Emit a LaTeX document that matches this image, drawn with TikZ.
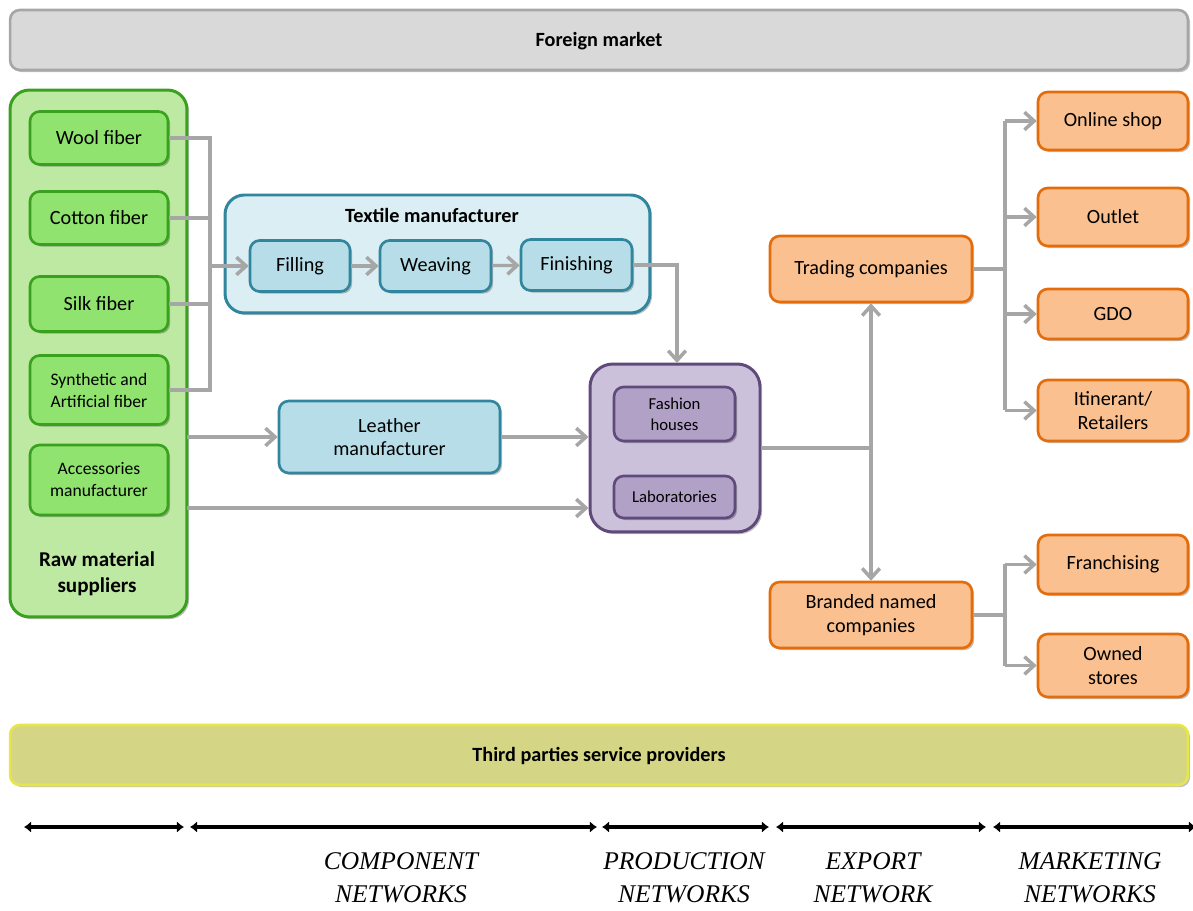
\documentclass[tikz,border=0pt]{standalone}
\usepackage{fontspec}
\setmainfont{Carlito}
\newfontfamily\netfont{Liberation Serif}
\usetikzlibrary{arrows.meta,shadows}
\definecolor{fmfill}{HTML}{D9D9D9}
\definecolor{fmdraw}{HTML}{A6A6A6}
\definecolor{gofill}{HTML}{BDE9A2}
\definecolor{gifill}{HTML}{8FE36E}
\definecolor{gdraw}{HTML}{3AA11F}
\definecolor{tofill}{HTML}{DAEEF3}
\definecolor{tifill}{HTML}{B7DEE8}
\definecolor{tdraw}{HTML}{31859C}
\definecolor{pofill}{HTML}{CCC1DA}
\definecolor{pifill}{HTML}{B2A1C7}
\definecolor{pdraw}{HTML}{604A7B}
\definecolor{ofill}{HTML}{FAC08F}
\definecolor{odraw}{HTML}{E46C0A}
\definecolor{yfill}{HTML}{D5D586}
\definecolor{ydraw}{HTML}{E6E64A}
\definecolor{conn}{HTML}{A6A6A6}
\tikzset{
  x=0.02cm,y=-0.02cm,
  shad/.style={drop shadow={shadow xshift=1.2pt,shadow yshift=-1.2pt,opacity=0.25,fill=black}},
  base/.style={rectangle,rounded corners=5.5pt,line width=1.5pt,align=center,inner sep=1pt,font=\fontsize{11.5}{13.5}\selectfont,shad},
  bar/.style={base,rounded corners=5.5pt},
  gout/.style={base,rounded corners=11pt,line width=1.7pt,fill=gofill,draw=gdraw},
  gin/.style={base,fill=gifill,draw=gdraw},
  tout/.style={base,rounded corners=11pt,line width=1.7pt,fill=tofill,draw=tdraw},
  tin/.style={base,fill=tifill,draw=tdraw},
  pout/.style={base,rounded corners=13pt,line width=1.7pt,fill=pofill,draw=pdraw},
  pin/.style={base,fill=pifill,draw=pdraw,font=\fontsize{9.5}{12}\selectfont},
  obox/.style={base,fill=ofill,draw=odraw},
  lbl/.style={font=\bfseries\fontsize{11.5}{14}\selectfont,align=center,inner sep=0pt},
  line/.style={draw=conn,line width=1.8pt},
  barb/.style={},
  arr/.style={line,-{Straight Barb[length=5.5pt,width=10pt,line width=2pt]}},
  darr/.style={line,{Straight Barb[length=5.5pt,width=10pt,line width=2pt]}-{Straight Barb[length=5.5pt,width=10pt,line width=2pt]}},
  net/.style={black,line width=1.8pt,{Latex[length=4pt,width=6.5pt]}-{Latex[length=4pt,width=6.5pt]}},
  nettext/.style={font=\netfont\itshape\fontsize{14.5}{18.5}\selectfont,align=center,inner sep=0pt}
}
\begin{document}
\begin{tikzpicture}
\useasboundingbox (0,0) rectangle (1193,911);
% top and bottom bars
\node[bar,fill=fmfill,draw=fmdraw,minimum width=23.56cm,minimum height=1.2cm] (fm) at (599,40) {};
\node[lbl] (fmt) at (599,41) {Foreign market};
\node[bar,fill=yfill,draw=ydraw,minimum width=23.56cm,minimum height=1.2cm] (third) at (599,755) {};
\node[lbl] (thirdt) at (599,756) {Third parties service providers};
% raw material suppliers
\node[gout,minimum width=3.54cm,minimum height=10.54cm] (raw) at (98.5,353.5) {};
\node[lbl,font=\bfseries\fontsize{12}{15}\selectfont] (rawt) at (97,574) {Raw material\\suppliers};
\node[gin,minimum width=2.76cm,minimum height=1.06cm] (wool) at (99,138) {Wool fiber};
\node[gin,minimum width=2.76cm,minimum height=1.06cm] (cotton) at (99,218) {Cotton fiber};
\node[gin,minimum width=2.76cm,minimum height=1.1cm] (silk) at (99,304) {Silk fiber};
\node[gin,minimum width=2.76cm,minimum height=1.38cm,font=\fontsize{10}{12.5}\selectfont] (synth) at (99,390) {Synthetic and\\Artificial fiber};
\node[gin,minimum width=2.76cm,minimum height=1.4cm,font=\fontsize{10}{12.5}\selectfont] (acc) at (99,480) {Accessories\\manufacturer};
% textile manufacturer
\node[tout,minimum width=8.5cm,minimum height=2.36cm] (textile) at (437.5,254) {};
\node[lbl] (textilet) at (432,215) {Textile manufacturer};
\node[tin,minimum width=2cm,minimum height=1.02cm] (fill) at (300,266) {Filling};
\node[tin,minimum width=2.22cm,minimum height=1.02cm] (weav) at (435.5,266) {Weaving};
\node[tin,minimum width=2.22cm,minimum height=1.02cm] (fin) at (576.5,265) {Finishing};
\node[tin,minimum width=4.42cm,minimum height=1.44cm] (leather) at (389.5,437) {Leather\\manufacturer};
% production
\node[pout,minimum width=3.4cm,minimum height=3.36cm] (prod) at (675,448) {};
\node[pin,minimum width=2.42cm,minimum height=1.08cm] (fh) at (674.5,414) {Fashion\\houses};
\node[pin,minimum width=2.42cm,minimum height=0.84cm] (lab) at (674.5,497) {Laboratories};
% orange
\node[obox,minimum width=4.04cm,minimum height=1.32cm] (trade) at (871,269) {Trading companies};
\node[obox,minimum width=4.04cm,minimum height=1.32cm] (brand) at (871,615) {Branded named\\companies};
\node[obox,minimum width=3cm,minimum height=1.16cm] (online) at (1113,121) {Online shop};
\node[obox,minimum width=3cm,minimum height=1.16cm] (outlet) at (1113,217) {Outlet};
\node[obox,minimum width=3cm,minimum height=1.0cm] (gdo) at (1113,314) {GDO};
\node[obox,minimum width=3cm,minimum height=1.22cm] (itin) at (1113,410.5) {Itinerant/\\Retailers};
\node[obox,minimum width=3cm,minimum height=1.18cm] (fran) at (1113,564.5) {Franchising};
\node[obox,minimum width=3cm,minimum height=1.26cm] (owned) at (1113,665.5) {Owned\\stores};
% connectors
\coordinate (j1) at (210,266);
\draw[line] (wool.east) -- (wool.east -| j1) -- (synth.east -| j1) -- (synth.east);
\draw[line] (cotton.east) -- (cotton.east -| j1);
\draw[line] (silk.east) -- (silk.east -| j1);
\draw[arr] (j1) -- (fill.west);
\draw[arr] (fill) -- (weav);
\draw[arr] (weav) -- (fin);
\coordinate (j4) at (677,363);
\draw[arr] (fin.east) -| (j4);
\coordinate (r1) at (187,437);
\draw[arr] (r1) -- (leather.west);
\draw[arr] (leather.east) -- (leather.east -| prod.west);
\coordinate (r2) at (187,508);
\draw[arr] (r2) -- (r2 -| prod.west);
\draw[darr] (trade.south) -- (brand.north);
\draw[line] (prod.east) -- (prod.east -| trade.south);
\coordinate (j3) at (1005,269);
\draw[line] (trade.east) -- (j3);
\draw[line] (online.west -| j3) -- (itin.west -| j3);
\draw[arr] (online.west -| j3) -- (online.west);
\draw[arr] (outlet.west -| j3) -- (outlet.west);
\draw[arr] (gdo.west -| j3) -- (gdo.west);
\draw[arr] (itin.west -| j3) -- (itin.west);
\coordinate (j5) at (1005,615);
\draw[line] (brand.east) -- (j5);
\draw[line] (fran.west -| j5) -- (owned.west -| j5);
\draw[arr] (fran.west -| j5) -- (fran.west);
\draw[arr] (owned.west -| j5) -- (owned.west);
% network arrows
\coordinate (n0) at (24,827);
\coordinate (n1) at (184,827);
\coordinate (n2) at (190,827);
\coordinate (n3) at (597,827);
\coordinate (n4) at (602,827);
\coordinate (n5) at (769,827);
\coordinate (n6) at (776,827);
\coordinate (n7) at (986,827);
\coordinate (n8) at (993,827);
\coordinate (n9) at (1196,827);
\draw[net] (n0) -- (n1);
\draw[net] (n2) -- (n3);
\draw[net] (n4) -- (n5);
\draw[net] (n6) -- (n7);
\draw[net] (n8) -- (n9);
\node[nettext] (c1) at (401,878) {COMPONENT\\NETWORKS};
\node[nettext] (c2) at (684,878) {PRODUCTION\\NETWORKS};
\node[nettext] (c3) at (873,878) {EXPORT\\NETWORK};
\node[nettext] (c4) at (1090,878) {MARKETING\\NETWORKS};
\end{tikzpicture}
\end{document}
